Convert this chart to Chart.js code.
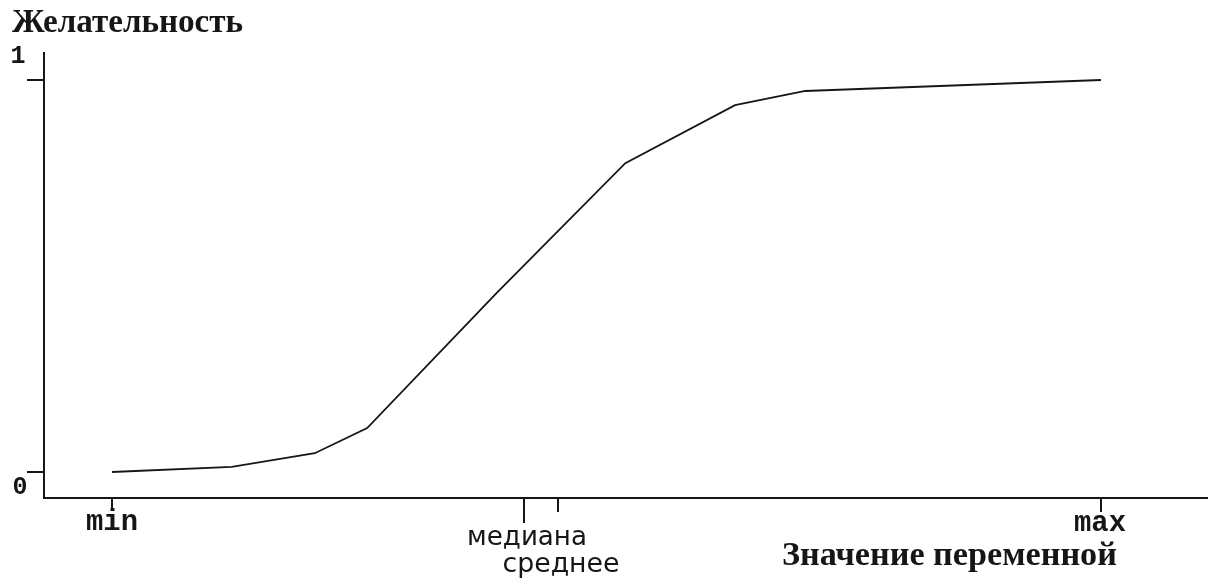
<!DOCTYPE html>
<html><head><meta charset="utf-8">
<script src="https://cdn.jsdelivr.net/npm/chart.js@4"></script>
<style>html,body{margin:0;padding:0;background:#fff;overflow:hidden}</style>
</head><body>
<canvas id="c" width="1209" height="579"></canvas>
<script>
// ---- data ----
const xValues = [0, 12.1, 20.5, 25.8, 38.9, 51.9, 63.0, 70.1, 100];
const desirability = [0, 0.013, 0.048, 0.112, 0.457, 0.788, 0.936, 0.972, 1];
const xTickValues = [0, 41.7, 45.1, 100];
const xTickLabels = ['min', 'медиана', 'среднее', 'max'];
const yTickValues = [0, 1];
const yTickLabels = ['0', '1'];
const chartTitle = 'Желательность';
const xAxisTitle = 'Значение переменной';

// ---- styles ----
const INK = '#161616';
const xTickStyle = [
  {len: 12, dx: 0, dy: 25, font: ['bold', 'Liberation Mono'], w: 52},
  {len: 25, dx: 3, dy: 40, font: ['normal', 'DejaVu Sans'], w: 120},
  {len: 14, dx: 3, dy: 67, font: ['normal', 'DejaVu Sans'], w: 117},
  {len: 14, dx: -1, dy: 26, font: ['bold', 'Liberation Mono'], w: 52}
];
const yTickStyle = [
  {dx: -24, dy: 16},
  {dx: -26, dy: -23}
];

function fitFont(ctx, text, weight, family, targetW) {
  ctx.font = weight + ' 20px "' + family + '"';
  const w = ctx.measureText(text).width;
  const size = 20 * targetW / w;
  return weight + ' ' + size.toFixed(2) + 'px "' + family + '"';
}

const decor = {
  id: 'decor',
  afterDraw(chart) {
    const ctx = chart.ctx;
    const xs = chart.scales.x, ys = chart.scales.y;
    const axisY = chart.chartArea.bottom, axisX = chart.chartArea.left;
    ctx.save();
    ctx.strokeStyle = INK;
    ctx.fillStyle = INK;
    ctx.lineWidth = 2;
    ctx.textAlign = 'center';
    ctx.textBaseline = 'middle';
    // x ticks
    xTickValues.forEach((v, i) => {
      const st = xTickStyle[i];
      const px = Math.round(xs.getPixelForValue(v));
      ctx.beginPath();
      ctx.moveTo(px, axisY);
      ctx.lineTo(px, axisY + st.len);
      ctx.stroke();
      ctx.font = fitFont(ctx, xTickLabels[i], st.font[0], st.font[1], st.w);
      ctx.fillText(xTickLabels[i], px + st.dx, axisY + st.dy);
    });
    // y ticks
    yTickValues.forEach((v, i) => {
      const st = yTickStyle[i];
      const py = Math.round(ys.getPixelForValue(v));
      ctx.beginPath();
      ctx.moveTo(axisX - 17, py);
      ctx.lineTo(axisX, py);
      ctx.stroke();
      ctx.font = 'bold 25px "Liberation Mono"';
      ctx.fillText(yTickLabels[i], axisX + st.dx, py + st.dy);
    });
    // titles
    ctx.textAlign = 'left';
    ctx.textBaseline = 'alphabetic';
    ctx.font = fitFont(ctx, chartTitle, 'bold', 'Liberation Serif', 231);
    ctx.fillText(chartTitle, 12, 32);
    ctx.font = fitFont(ctx, xAxisTitle, 'bold', 'Liberation Serif', 335);
    ctx.fillText(xAxisTitle, 782, 565);
    ctx.restore();
  }
};

new Chart(document.getElementById('c'), {
  type: 'line',
  data: {
    datasets: [{
      data: xValues.map((x, i) => ({x: x, y: desirability[i]})),
      borderColor: INK,
      borderWidth: 1.8,
      pointRadius: 0,
      tension: 0,
      fill: false
    }]
  },
  options: {
    responsive: false,
    animation: false,
    devicePixelRatio: 1,
    layout: {padding: {left: 36, top: 53, right: 2, bottom: 73}},
    plugins: {legend: {display: false}, tooltip: {enabled: false}},
    scales: {
      x: {
        type: 'linear', min: -6.88, max: 110.72,
        grid: {display: false},
        ticks: {display: false},
        border: {display: true, color: INK, width: 2}
      },
      y: {
        type: 'linear', min: -0.0663, max: 1.0689,
        grid: {display: false},
        ticks: {display: false},
        border: {display: true, color: INK, width: 2}
      }
    }
  },
  plugins: [decor]
});
</script>
</body></html>
